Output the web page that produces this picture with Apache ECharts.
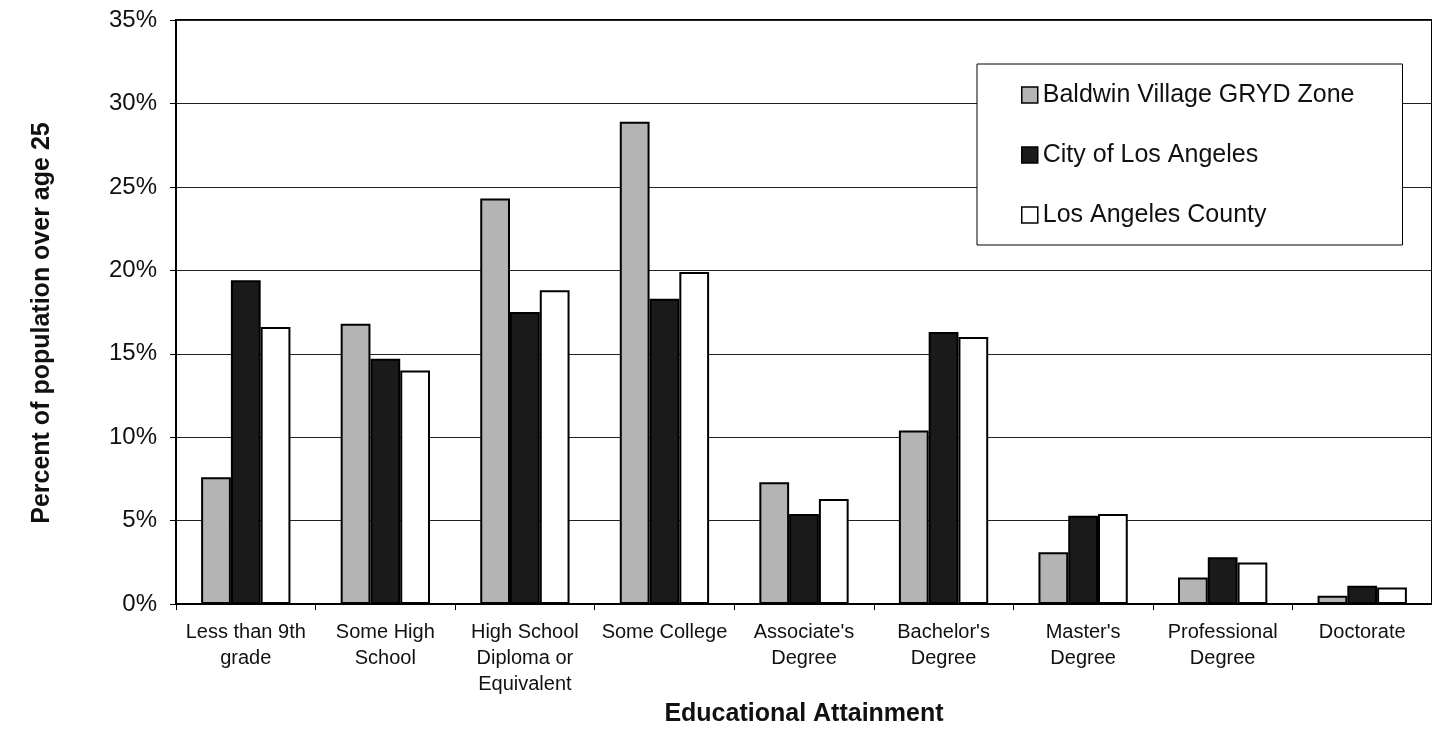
<!DOCTYPE html>
<html>
<head>
<meta charset="utf-8">
<script src="https://cdn.jsdelivr.net/npm/echarts@6/dist/echarts.min.js"></script>
<style>
html,body{margin:0;padding:0;background:#fff;}
#chart{width:1432px;height:732px;}
</style>
</head>
<body>
<div id="chart"></div>
<script>
const categories = [
  "Less than 9th\ngrade",
  "Some High\nSchool",
  "High School\nDiploma or\nEquivalent",
  "Some College",
  "Associate's\nDegree",
  "Bachelor's\nDegree",
  "Master's\nDegree",
  "Professional\nDegree",
  "Doctorate"
];
const seriesNames = ["Baldwin Village GRYD Zone", "City of Los Angeles", "Los Angeles County"];
const baldwinValues = [7.6, 16.8, 24.3, 28.9, 7.3, 10.4, 3.1, 1.6, 0.5];
const cityValues = [19.4, 14.7, 17.5, 18.3, 5.4, 16.3, 5.3, 2.8, 1.1];
const countyValues = [16.6, 14.0, 18.8, 19.9, 6.3, 16.0, 5.4, 2.5, 1.0];
const yTicks = { min: 0, max: 35, interval: 5 };

const FONT = "Liberation Sans, Arial, sans-serif";
const chart = echarts.init(document.getElementById('chart'), null, {renderer: 'canvas'});

function barSeries(name, data, color) {
  return {
    name: name,
    type: 'bar',
    data: data,
    barGap: '0%',
    barCategoryGap: '36%',
    itemStyle: { color: color, borderColor: '#000', borderWidth: 2 },
    emphasis: { disabled: true }
  };
}

chart.setOption({
  animation: false,
  backgroundColor: '#fff',
  grid: {
    left: 176, top: 20, width: 1267, bottom: 122,
    show: true, borderColor: '#000', borderWidth: 2, backgroundColor: 'transparent'
  },
  legend: {
    orient: 'vertical',
    left: 977, top: 64,
    padding: [16, 48, 15, 44],
    itemGap: 30,
    itemWidth: 16, itemHeight: 16,
    backgroundColor: '#fff',
    borderColor: '#000', borderWidth: 1,
    icon: 'rect',
    itemStyle: { borderColor: '#000', borderWidth: 1.5 },
    textStyle: { fontFamily: FONT, fontSize: 25, color: '#111', lineHeight: 30 },
    data: seriesNames
  },
  xAxis: {
    type: 'category',
    data: categories,
    name: 'Educational Attainment',
    nameLocation: 'middle',
    nameGap: 88,
    nameTextStyle: { fontFamily: FONT, fontSize: 25, fontWeight: 'bold', color: '#111' },
    axisLine: { show: true, lineStyle: { color: '#000', width: 2 } },
    axisTick: { show: true, length: 6, lineStyle: { color: '#000', width: 1 } },
    axisLabel: { interval: 0, margin: 15, fontFamily: FONT, fontSize: 20, lineHeight: 26, color: '#111', align: 'center' },
    splitLine: { show: false }
  },
  yAxis: {
    type: 'value',
    min: yTicks.min, max: yTicks.max, interval: yTicks.interval,
    name: 'Percent of population over age 25',
    nameLocation: 'middle',
    nameGap: 121,
    nameRotate: 90,
    nameTextStyle: { fontFamily: FONT, fontSize: 25, fontWeight: 'bold', color: '#111', padding: [0, 22, 0, 0] },
    axisLine: { show: true, lineStyle: { color: '#000', width: 2 } },
    axisTick: { show: true, length: 6, lineStyle: { color: '#000', width: 1 } },
    axisLabel: { margin: 19, fontFamily: FONT, fontSize: 24, color: '#111', formatter: '{value}%' },
    splitLine: { show: true, lineStyle: { color: '#222', width: 1 } }
  },
  series: [
    barSeries(seriesNames[0], baldwinValues, '#b4b4b4'),
    barSeries(seriesNames[1], cityValues, '#1a1a1a'),
    barSeries(seriesNames[2], countyValues, '#ffffff')
  ]
});
</script>
</body>
</html>
